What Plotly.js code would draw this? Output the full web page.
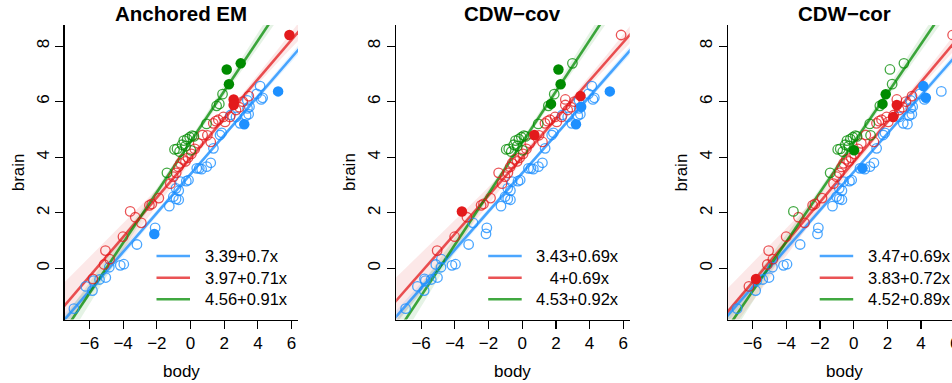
<!DOCTYPE html>
<html><head><meta charset="utf-8">
<script src="https://cdn.plot.ly/plotly-3.0.1.min.js"></script>
<style>html,body{margin:0;padding:0;overflow:hidden;background:#fff}#chart{width:993px;height:383px}</style>
</head><body><div id="chart"></div>
<script>
// ---- data ----
const body = [-6.92,-6.22,-5.82,-5.80,-5.75,-5.40,-5.03,-5.05,-5.13,-4.80,
  -4.82,-4.17,-3.96,-4.01,-3.18,-2.92,-3.28,-3.58,-2.10,-2.15,
  -2.44,-2.30,-1.88,-1.40,-1.26,-1.02,-0.86,-0.70,-0.86,-0.70,
  -0.60,-0.25,-0.12,-1.20,-1.02,-0.85,-0.72,-0.60,-0.45,-0.30,
  -0.15,0.05,0.25,0.45,-0.95,-0.80,-0.65,-0.50,-0.40,-0.20,
  -0.05,0.10,0.20,-0.30,0.02,0.37,0.52,0.66,0.96,1.20,
  1.36,1.75,1.85,0.72,1.00,1.20,0.95,1.35,1.50,1.65,
  1.95,2.05,2.34,1.55,1.71,1.90,2.15,2.98,2.28,2.56,
  2.56,2.70,2.90,3.10,3.46,2.38,2.70,2.94,3.19,3.30,
  3.45,3.38,3.50,3.37,3.93,4.13,4.28,4.20,5.20,5.87];
const brain = [-1.45,-0.65,-0.80,-0.38,-0.44,-0.40,-0.33,0.64,0.14,0.33,
  0.04,0.11,0.15,1.14,0.86,1.64,1.84,2.05,1.46,1.24,
  2.27,2.32,2.53,3.44,2.24,2.58,2.50,2.47,2.88,2.80,
  3.12,3.14,3.18,3.05,3.30,3.44,3.65,3.78,3.92,3.85,
  3.98,4.12,4.30,4.50,4.28,4.30,4.20,4.45,4.60,4.65,
  4.72,4.78,4.75,4.40,4.25,3.60,3.60,3.57,3.66,3.80,
  4.32,4.80,4.88,4.80,4.79,4.55,5.20,5.22,5.30,5.35,
  5.45,5.27,5.45,5.85,5.92,6.27,7.16,7.38,6.63,6.08,
  5.88,5.70,5.80,6.00,6.20,5.52,5.45,5.22,5.19,5.50,
  5.55,5.76,5.82,6.05,6.28,6.56,6.14,6.08,6.37,8.40];
// cluster labels: 0 = blue, 1 = red, 2 = green
const groupEM = [0,0,0,1,0,0,0,1,1,1, 0,0,0,1,0,1,1,1,0,0, 1,1,1,2,0,0,0,0,0,0,
  0,0,0,1,1,1,1,1,1,1, 1,1,1,1,2,2,2,2,2,2, 2,2,2,2,2,0,0,0,0,0,
  0,0,0,1,1,1,2,1,1,1, 1,1,1,2,2,2,2,2,2,1, 1,1,1,1,1,0,0,0,0,0, 0,0,0,0,0,0,0,0,0,1];
const groupCov = [0,0,0,0,0,0,0,1,0,0, 0,0,0,1,0,0,1,1,0,0, 1,1,1,1,0,0,0,0,0,0,
  0,0,0,1,1,1,1,1,1,1, 1,1,1,1,2,2,2,2,2,2, 2,2,2,2,2,0,0,0,0,0,
  0,0,0,1,1,1,2,1,1,1, 1,1,1,2,2,2,2,2,2,1, 1,1,1,1,1,0,0,0,0,0, 0,0,0,0,0,0,0,0,0,1];
const groupCor = [0,1,0,1,0,0,0,1,1,1, 0,0,0,1,0,1,1,2,0,0, 1,1,1,2,0,0,0,0,0,0,
  0,0,0,1,1,1,1,1,1,1, 1,1,1,1,2,2,2,2,2,2, 2,2,2,2,2,0,0,0,0,0,
  0,0,0,1,2,1,2,1,1,1, 1,1,1,2,2,2,2,2,2,1, 1,1,1,1,1,1,0,0,0,0, 0,0,0,0,0,0,0,0,0,1];
// anchor (filled) points, by index
const anchorsEM = [19,88,98,79,80,99,76,77,78];
const anchorsCov = [88,92,98,17,63,84,74,76,78];
const anchorsCor = [56,95,96,3,72,80,54,74,75];
// fitted lines (blue, red, green)
const interceptEM = [3.39,3.97,4.56], slopeEM = [0.70,0.71,0.91];
const interceptCov = [3.43,4.00,4.53], slopeCov = [0.69,0.69,0.92];
const interceptCor = [3.47,3.83,4.52], slopeCor = [0.69,0.72,0.89];
const legendEM = ["3.39+0.7x","3.97+0.71x","4.56+0.91x"];
const legendCov = ["3.43+0.69x","\u00a0\u00a0\u00a04+0.69x","4.53+0.92x"];
const legendCor = ["3.47+0.69x","3.83+0.72x","4.52+0.89x"];
const titles = ["Anchored EM","CDW\u2212cov","CDW\u2212cor"];
// confidence band half-widths read at bandX
const bandX = [-7.6,-5,-2.5,0,2.5,5,6.5];
const hwBlue = [0.22,0.16,0.10,0.07,0.07,0.12,0.16];
const hwRed = [0.85,0.60,0.35,0.15,0.10,0.22,0.32];
const hwGreen = [0.50,0.32,0.16,0.12,0.18,0.30,0.38];
const xTicks = [-6,-4,-2,0,2,4,6];
const yTicks = [0,2,4,6,8];

// ---- style / layout ----
const W = 993, H = 383;
const FONT = "Liberation Sans, Arial, sans-serif";
const solid = ["rgb(30,144,255)","rgb(227,26,28)","rgb(0,139,0)"];
const lineCol = ["rgba(30,144,255,0.8)","rgba(227,26,28,0.75)","rgba(0,139,0,0.75)"];
const bandCol = ["rgba(30,144,255,0.12)","rgba(227,26,28,0.10)","rgba(0,139,0,0.10)"];
const panelLeft = [64.5, 396.2, 727.7], plotW = 233.5, plotTop = 25, plotBottom = 319.5;
const xRange = [-7.48, 6.38], yRange = [-1.84, 8.76];
const px = v => v / W, py = v => 1 - v / H;

const panels = [
  {groups: groupEM, anchors: anchorsEM, a: interceptEM, b: slopeEM, leg: legendEM},
  {groups: groupCov, anchors: anchorsCov, a: interceptCov, b: slopeCov, leg: legendCov},
  {groups: groupCor, anchors: anchorsCor, a: interceptCor, b: slopeCor, leg: legendCor}
];
const hws = [hwBlue, hwRed, hwGreen];

const traces = [], shapes = [], annotations = [];
const layout = {
  width: W, height: H, margin: {l:0,r:0,t:0,b:0},
  paper_bgcolor: "#fff", plot_bgcolor: "#fff", showlegend: false,
  font: {family: FONT, size: 17, color: "#000"}
};

panels.forEach((p, k) => {
  const sfx = k === 0 ? "" : String(k + 1);
  const xa = "x" + sfx, ya = "y" + sfx;
  const L = panelLeft[k];
  layout["xaxis" + sfx] = {
    domain: [px(L), px(L + plotW)], range: xRange, anchor: ya,
    showgrid: false, zeroline: false, showline: true, linecolor: "#000", linewidth: 1.2,
    ticks: "outside", ticklen: 8, tickwidth: 1.2, tickcolor: "#000",
    tickvals: xTicks, tickfont: {family: FONT, size: 17, color: "#000"}, fixedrange: true
  };
  layout["yaxis" + sfx] = {
    domain: [py(plotBottom), py(plotTop)], range: yRange, anchor: xa,
    showgrid: false, zeroline: false, showline: true, linecolor: "#000", linewidth: 1.2,
    ticks: "outside", ticklen: 8, tickwidth: 1.2, tickcolor: "#000",
    tickvals: yTicks, tickangle: -90, tickfont: {family: FONT, size: 17, color: "#000"}, fixedrange: true
  };
  // bands
  for (let c = 0; c < 3; c++) {
    const up = bandX.map((x, i) => p.a[c] + p.b[c] * x + hws[c][i]);
    const lo = bandX.map((x, i) => p.a[c] + p.b[c] * x - hws[c][i]);
    traces.push({type: "scatter", mode: "lines", xaxis: xa, yaxis: ya,
      x: bandX.concat(bandX.slice().reverse()), y: up.concat(lo.slice().reverse()),
      fill: "toself", fillcolor: bandCol[c], line: {width: 0}, hoverinfo: "skip"});
  }
  // fitted lines
  for (let c = 0; c < 3; c++) {
    traces.push({type: "scatter", mode: "lines", xaxis: xa, yaxis: ya,
      x: [bandX[0], bandX[bandX.length - 1]],
      y: [p.a[c] + p.b[c] * bandX[0], p.a[c] + p.b[c] * bandX[bandX.length - 1]],
      line: {color: lineCol[c], width: 2.6}, hoverinfo: "skip"});
  }
  // open points
  for (let c = 0; c < 3; c++) {
    const idx = body.map((_, i) => i).filter(i => p.groups[i] === c && !p.anchors.includes(i));
    traces.push({type: "scatter", mode: "markers", xaxis: xa, yaxis: ya,
      x: idx.map(i => body[i]), y: idx.map(i => brain[i]),
      marker: {symbol: "circle-open", size: 9.5, color: lineCol[c], line: {width: 1.3}}, cliponaxis: false});
  }
  // anchors (filled)
  for (let c = 0; c < 3; c++) {
    const idx = p.anchors.filter(i => p.groups[i] === c);
    traces.push({type: "scatter", mode: "markers", xaxis: xa, yaxis: ya,
      x: idx.map(i => body[i]), y: idx.map(i => brain[i]),
      marker: {symbol: "circle", size: 10.5, color: solid[c], line: {width: 0}}, cliponaxis: false});
  }
  // title & axis titles
  annotations.push({xref: "paper", yref: "paper", x: px(L + plotW / 2), y: py(14), text: "<b>" + titles[k] + "</b>",
    showarrow: false, xanchor: "center", yanchor: "middle", font: {family: FONT, size: 20.5, color: "#000"}});
  annotations.push({xref: "paper", yref: "paper", x: px(L + plotW / 2), y: py(371), text: "body",
    showarrow: false, xanchor: "center", yanchor: "middle", font: {family: FONT, size: 17, color: "#000"}});
  annotations.push({xref: "paper", yref: "paper", x: px(L - 46.5), y: py((plotTop + plotBottom) / 2), text: "brain",
    textangle: -90, showarrow: false, xanchor: "center", yanchor: "middle", font: {family: FONT, size: 17, color: "#000"}});
  // legend
  const rows = [256, 277.7, 299.3];
  for (let c = 0; c < 3; c++) {
    shapes.push({type: "line", xref: "paper", yref: "paper", x0: px(L + 92), x1: px(L + 125.5),
      y0: py(rows[c]), y1: py(rows[c]), line: {color: lineCol[c], width: 2.6}});
    annotations.push({xref: "paper", yref: "paper", x: px(L + 138), y: py(rows[c]), text: p.leg[c],
      showarrow: false, xanchor: "left", yanchor: "middle", font: {family: FONT, size: 16.5, color: "#000"}});
  }
});
layout.shapes = shapes;
layout.annotations = annotations;
Plotly.newPlot("chart", traces, layout, {staticPlot: true, displayModeBar: false});
</script></body></html>
